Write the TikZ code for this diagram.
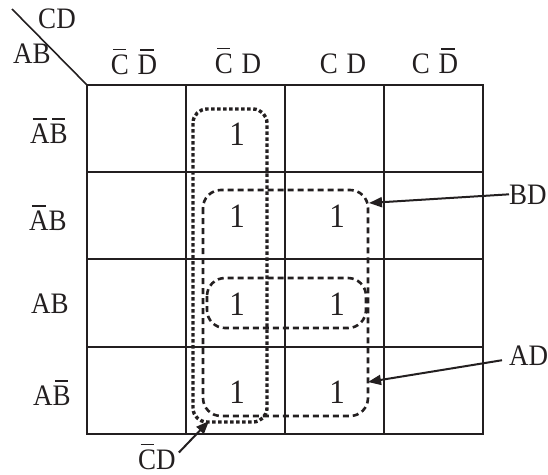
\documentclass[tikz,border=0pt]{standalone}
\usepackage{fontspec}
\setmainfont{Liberation Serif}
\usetikzlibrary{arrows.meta}
\newcommand\ob[1]{\begingroup\setbox0\hbox{#1}\rlap{\hbox to\wd0{\hss\raisebox{\dimexpr\ht0+0.13em\relax}{\rule{0.72\wd0}{0.06em}}\hss}}\copy0\endgroup}
\newcommand\vs[1]{\scalebox{1}[1.1]{#1}}
\newcommand\wsp{\hspace{0.33em}}
\definecolor{ink}{HTML}{231F20}
\begin{document}
\begin{tikzpicture}[x=1pt,y=-1pt,
  every node/.style={text=ink},
  lab/.style={font=\fontsize{27}{30}\selectfont, inner sep=0pt, anchor=base},
  one/.style={font=\fontsize{31}{34}\selectfont, inner sep=0pt, anchor=base},
  gridline/.style={draw=ink, line width=2pt},
  loopthick/.style={draw=ink, line width=3.4pt, dash pattern=on 3.5pt off 2.5pt, rounded corners=14pt},
  loopthin/.style={draw=ink, line width=2.6pt, dash pattern=on 6pt off 4pt, rounded corners=18pt},
  arr/.style={draw=ink, line width=2pt, -{Triangle[length=13pt,width=10pt]}}]
\useasboundingbox (0,0) rectangle (548,474);
% grid
\draw[gridline] (87,85) rectangle (483,434);
\foreach \x in {186,285,384} \draw[gridline] (\x,85) -- (\x,434);
\foreach \y in {172,259,347} \draw[gridline] (87,\y) -- (483,\y);
\draw[draw=ink, line width=1.6pt] (12,9) -- (87,85);
% corner labels
\node[lab] (cd) at (57,28) {\vs{CD}};
\node[lab] (ab) at (32,63) {\vs{AB}};
% column headers
\node[lab] (h1) at (134,74) {\vs{\ob{C}\wsp\ob{D}}};
\node[lab] (h2) at (238,73) {\vs{\ob{C}\wsp D}};
\node[lab] (h3) at (343,73) {\vs{C\wsp D}};
\node[lab] (h4) at (435,73) {\vs{C\wsp\ob{D}}};
% row headers
\node[lab] (r1) at (49,143) {\vs{\ob{A}\ob{B}}};
\node[lab] (r2) at (48,230) {\vs{\ob{A}B}};
\node[lab] (r3) at (50,313) {\vs{AB}};
\node[lab] (r4) at (52,405) {\vs{A\ob{B}}};
% ones
\node[one] (o1) at (237,145) {\vs{1}};
\node[one] (o2) at (237,227) {\vs{1}};
\node[one] (o3) at (337,227) {\vs{1}};
\node[one] (o4) at (237,315) {\vs{1}};
\node[one] (o5) at (337,315) {\vs{1}};
\node[one] (o6) at (237,403) {\vs{1}};
\node[one] (o7) at (337,403) {\vs{1}};
% loops
\draw[loopthick] (193,109) rectangle (267,422);
\draw[loopthin] (203,190) rectangle (368,416);
\draw[loopthin] (207,278) rectangle (366,328);
% labels with arrows
\node[lab, anchor=base west] (bd) at (509,204) {\vs{BD}};
\node[lab, anchor=base west] (ad) at (509,365) {\vs{AD}};
\node[lab, anchor=base west] (ncd) at (138,469) {\vs{\ob{C}D}};
\coordinate (bdtip) at (369,203);
\coordinate (adtip) at (368,382);
\coordinate (cdtip) at (209,421);
\draw[arr] (bd.west) -- (bdtip);
\draw[arr] ([shift={(-7,5)}]ad.west) -- (adtip);
\draw[arr] ([shift={(3,9)}]ncd.north east) -- (cdtip);
\end{tikzpicture}
\end{document}
